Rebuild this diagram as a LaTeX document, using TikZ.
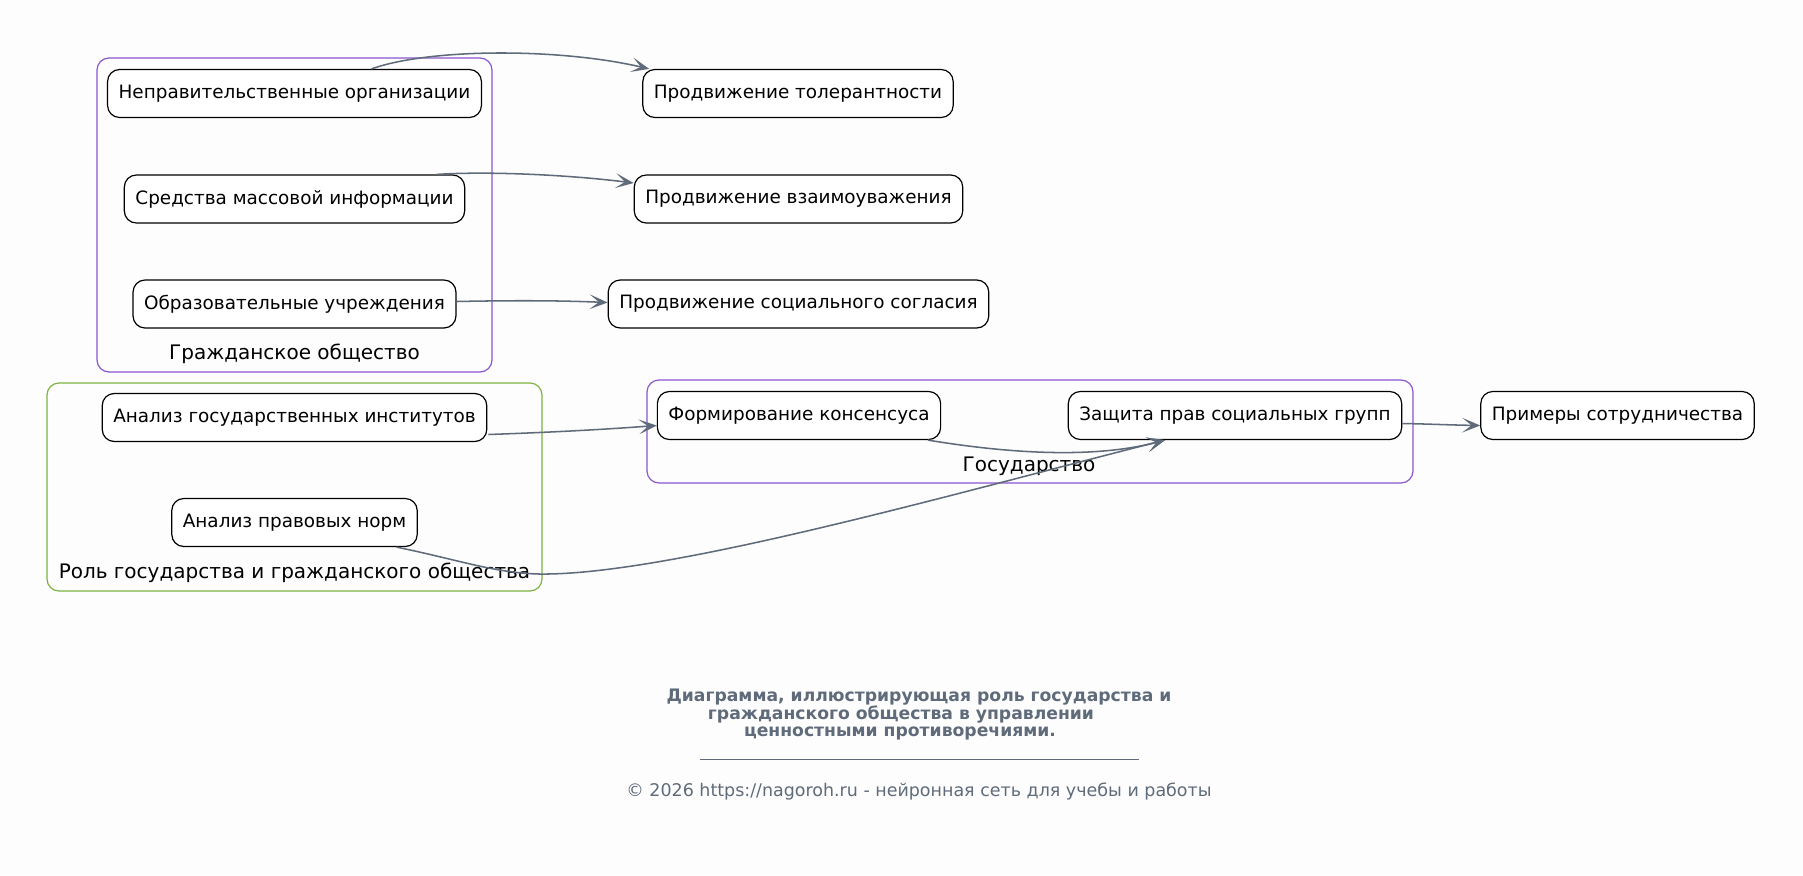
\documentclass[tikz,border=0pt]{standalone}
\usepackage{fontspec}
\setmainfont{DejaVu Sans}
\usetikzlibrary{arrows.meta,calc}
\definecolor{edgec}{HTML}{5F6B7A}
\definecolor{purp}{HTML}{8A55D0}
\definecolor{grn}{HTML}{7CB342}
\definecolor{bg}{HTML}{FDFDFD}
\begin{document}
\begin{tikzpicture}[x=0.75pt,y=-0.75pt,
  box/.style={draw=black,line width=0.9pt,fill=white,rounded corners=9pt,
    minimum height=36pt,inner xsep=8.3pt,inner ysep=0pt,
    font=\fontsize{13.8}{16}\selectfont},
  cluster/.style={line width=0.9pt,rounded corners=9pt},
  clabel/.style={font=\fontsize{15}{17}\selectfont,inner sep=0pt},
  conn/.style={draw=edgec,line width=1.15pt,-{Stealth[length=13.5pt,width=11pt,inset=7pt]}},
  ttl/.style={text=edgec,font=\fontsize{12.9}{15}\selectfont\bfseries,inner sep=0pt},
  cpy/.style={text=edgec,font=\fontsize{13.1}{15}\selectfont,inner sep=0pt}]
\fill[bg] (0,0) rectangle (1803,875);
\useasboundingbox (0,0) rectangle (1803,875);
% clusters
\draw[cluster,purp] (97,58) rectangle (492,372);
\node[clabel] (lciv) at (294.5,354) {Гражданское общество};
\draw[cluster,grn] (47,383) rectangle (542,591);
\node[clabel] (lrole) at (294.5,573) {Роль государства и гражданского общества};
\draw[cluster,purp] (647,380) rectangle (1413,483);
\node[clabel] (lgov) at (1029,466) {Государство};
% nodes
\node[box] (npo) at (294.5,93.5) {Неправительственные организации};
\node[box] (smi) at (294.5,199) {Средства массовой информации};
\node[box] (obr) at (294.5,304) {Образовательные учреждения};
\node[box] (an1) at (294.5,417.5) {Анализ государственных институтов};
\node[box] (an2) at (294.5,522.5) {Анализ правовых норм};
\node[box] (tol) at (798,93.5) {Продвижение толерантности};
\node[box] (vz) at (798.5,199) {Продвижение взаимоуважения};
\node[box] (sog) at (798.5,304) {Продвижение социального согласия};
\node[box] (form) at (799,415.5) {Формирование консенсуса};
\node[box] (zash) at (1235,415.5) {Защита прав социальных групп};
\node[box] (prim) at (1617.5,415.5) {Примеры сотрудничества};
% edges
\draw[conn] ($(npo.north)+(77,0)$) .. controls (430,48) and (560,48) .. ($(tol.north west)+(7,0)$);
\draw[conn] ($(smi.north)+(142,0)$) .. controls (490,171) and (570,175) .. ($(vz.west)+(0,-16)$);
\draw[conn] ($(obr.east)+(0,-2.5)$) .. controls (530,300) and (570,301) .. ($(sog.west)+(0,-1.5)$);
\draw[conn] ($(an1.east)+(1,17)$) .. controls (560,432) and (610,429) .. ($(form.west)+(0,10)$);
\draw[conn] ($(form.south)+(129,0)$) .. controls (1000,452) and (1090,460) .. ($(zash.south)+(-70,0)$);
\draw[conn] ($(an2.south)+(102,0)$) .. controls (460,560) and (500,575) .. (548,574)
  .. controls (680,572) and (960,492) .. ($(zash.south)+(-70,0)$);
\draw[conn] ($(zash.east)+(0,8)$) .. controls (1430,424) and (1450,425) .. ($(prim.west)+(0,10)$);
% title
\node[ttl] (t1) at (919,697) {Диаграмма, иллюстрирующая роль государства и};
\node[ttl] (t2) at (901,715) {гражданского общества в управлении};
\node[ttl] (t3) at (900,733) {ценностными противоречиями.};
\draw[edgec,line width=0.6pt] (699.5,759) -- (1139,759);
\node[cpy] (cp) at (919,792) {© 2026 https://nagoroh.ru - нейронная сеть для учебы и работы};
\end{tikzpicture}
\end{document}
